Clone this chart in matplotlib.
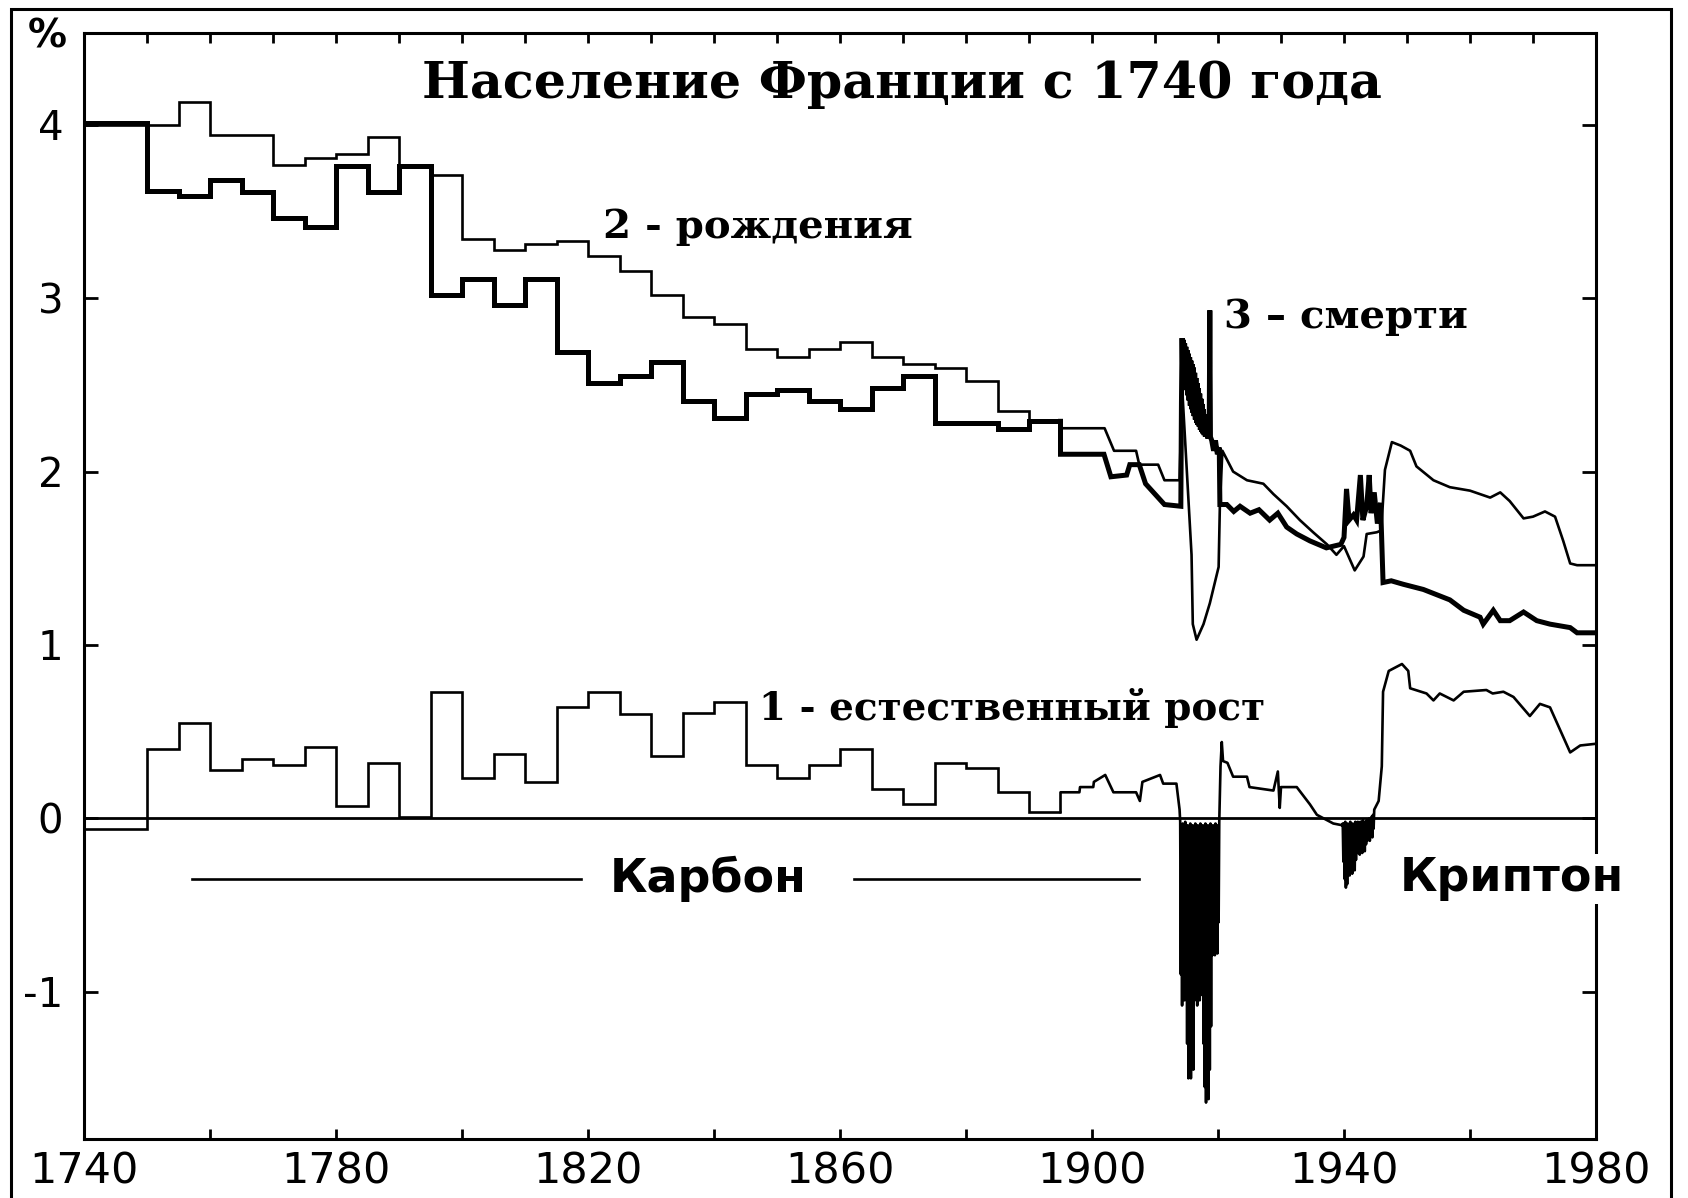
import numpy as np
import matplotlib
matplotlib.use("Agg")
import matplotlib.pyplot as plt
from matplotlib.patches import Rectangle

plt.rcParams['font.family'] = ['DejaVu Sans']

# ---- 5-year averages 1740-1895, % per year ----
period_edges = [1740, 1750, 1755, 1760, 1765, 1770, 1775, 1780, 1785, 1790, 1795,
                1800, 1805, 1810, 1815, 1820, 1825, 1830, 1835, 1840, 1845, 1850,
                1855, 1860, 1865, 1870, 1875, 1880, 1885, 1890, 1895]
births_period = [4.00, 4.00, 4.13, 3.94, 3.94, 3.77, 3.81, 3.83, 3.93, 3.77, 3.71,
                 3.34, 3.28, 3.31, 3.33, 3.245, 3.155, 3.02, 2.89, 2.85, 2.71, 2.66,
                 2.71, 2.75, 2.66, 2.62, 2.60, 2.52, 2.35, 2.29]
deaths_period = [4.01, 3.62, 3.59, 3.68, 3.61, 3.46, 3.41, 3.76, 3.61, 3.76, 3.02,
                 3.11, 2.96, 3.11, 2.69, 2.51, 2.55, 2.63, 2.41, 2.31, 2.45, 2.47,
                 2.41, 2.36, 2.48, 2.55, 2.28, 2.28, 2.245, 2.29]
growth_period = [-0.06, 0.40, 0.55, 0.28, 0.34, 0.31, 0.41, 0.07, 0.32, 0.01, 0.73,
                 0.23, 0.37, 0.21, 0.64, 0.73, 0.60, 0.36, 0.61, 0.67, 0.305, 0.23,
                 0.305, 0.40, 0.17, 0.08, 0.32, 0.29, 0.15, 0.036]

# ---- yearly data 1895-1980 ----
births_years = [1895, 1895, 1902, 1903.5, 1907, 1907.5, 1910.5, 1911.5, 1913.9, 1914.3,
                1915.8, 1916.0, 1916.6, 1917.7, 1918.7, 1919.3, 1920.1, 1920.3, 1920.7,
                1922.4, 1924.6, 1927.2, 1928.8, 1930.9, 1933.0, 1935.1, 1937.3, 1938.8,
                1940.0, 1941.7, 1943.1, 1943.6, 1945.2, 1945.9, 1946.5, 1947.6, 1949.0,
                1950.5, 1951.5, 1954.2, 1956.8, 1960.0, 1963.2, 1964.8, 1966.3, 1968.5,
                1970.0, 1971.9, 1973.5, 1974.8, 1975.9, 1977.0, 1980.0]
births_vals = [2.29, 2.25, 2.25, 2.12, 2.12, 2.04, 2.04, 1.95, 1.95, 2.49,
               1.52, 1.12, 1.03, 1.12, 1.24, 1.33, 1.45, 1.81, 2.12,
               2.00, 1.95, 1.93, 1.87, 1.80, 1.72, 1.65, 1.58, 1.52,
               1.57, 1.43, 1.51, 1.64, 1.65, 1.66, 2.01, 2.17, 2.15,
               2.12, 2.03, 1.95, 1.91, 1.89, 1.85, 1.88, 1.83, 1.73,
               1.74, 1.77, 1.74, 1.60, 1.47, 1.46, 1.46]

deaths_pre_years = [1895, 1895, 1901.9, 1903.0, 1905.5, 1906.0, 1907.5, 1908.5, 1910.0,
                    1911.5, 1914.1, 1914.2, 1914.3]
deaths_pre_vals = [2.29, 2.10, 2.10, 1.97, 1.98, 2.04, 2.04, 1.93, 1.87,
                   1.81, 1.80, 2.40, 2.77]
# 1914.4 .. 1918.6, every 0.1 year (war band)
deaths_ww1 = [2.55, 2.76, 2.52, 2.74, 2.50, 2.72, 2.47, 2.70, 2.44, 2.68, 2.41, 2.66,
              2.38, 2.64, 2.36, 2.62, 2.34, 2.60, 2.32, 2.57, 2.30, 2.54, 2.28, 2.51,
              2.27, 2.48, 2.26, 2.45, 2.24, 2.42, 2.23, 2.39, 2.22, 2.36, 2.21, 2.33,
              2.20, 2.31, 2.20, 2.29, 2.19, 2.27, 2.20]
deaths_post_years = [1918.7, 1918.8, 1919.0, 1919.3, 1919.6, 1919.9, 1920.2, 1920.3, 1921.4,
                     1922.5, 1923.5, 1925.1, 1926.5, 1928.2, 1929.5, 1930.9, 1932.5, 1934.6,
                     1937.2, 1939.5, 1940.0, 1940.4, 1940.8, 1941.5, 1942.0, 1942.6, 1943.0,
                     1943.6, 1944.0, 1944.3, 1944.8, 1945.3, 1945.8, 1946.2, 1947.5, 1949.4,
                     1952.6, 1956.8, 1959.0, 1961.6, 1962.1, 1963.7, 1964.8, 1966.3, 1968.5,
                     1970.6, 1972.7, 1975.9, 1977.0, 1980.0]
deaths_post_vals = [2.93, 2.20, 2.18, 2.12, 2.18, 2.10, 2.14, 1.81, 1.81,
                    1.77, 1.80, 1.76, 1.78, 1.72, 1.76, 1.68, 1.64, 1.60,
                    1.56, 1.58, 1.62, 1.90, 1.72, 1.75, 1.72, 1.98, 1.72,
                    1.80, 1.98, 1.76, 1.88, 1.70, 1.82, 1.36, 1.37, 1.35,
                    1.32, 1.26, 1.20, 1.16, 1.12, 1.20, 1.14, 1.14, 1.19,
                    1.14, 1.12, 1.10, 1.07, 1.07]

growth_pre_years = [1895, 1895, 1898.0, 1898.1, 1900.2, 1900.3, 1902.1, 1903.4, 1907.0,
                    1907.6, 1908.0, 1910.8, 1911.3, 1913.4, 1913.9]
growth_pre_vals = [0.036, 0.15, 0.15, 0.18, 0.18, 0.21, 0.25, 0.15, 0.15,
                   0.10, 0.21, 0.25, 0.20, 0.20, 0.05]
# 1914.0 .. 1920.2, every 0.1 year
growth_ww1 = [-0.02, -0.90, -0.05, -1.08, -0.03, -0.95, -0.06, -1.05, -0.02, -1.00,
              -0.05, -1.30, -0.04, -1.50, -0.08, -1.42, -0.03, -1.50, -0.06, -1.35,
              -0.04, -1.45, -0.07, -1.05, -0.03, -0.98, -0.05, -1.08, -0.04, -0.95,
              -0.06, -1.05, -0.03, -0.92, -0.05, -1.02, -0.04, -1.30, -0.06, -1.55,
              -0.03, -1.64, -0.05, -1.58, -0.04, -1.62, -0.07, -1.45, -0.03, -1.20,
              -0.05, -0.79, -0.04, -0.75, -0.06, -0.79, -0.03, -0.72, -0.05, -0.78,
              -0.04, -0.60, -0.02]
growth_mid_years = [1920.4, 1920.6, 1920.8, 1921.5, 1922.4, 1924.6, 1925.0, 1928.8, 1929.5,
                    1929.8, 1930.0, 1932.5, 1934.6, 1935.7, 1938.3, 1939.7]
growth_mid_vals = [0.30, 0.44, 0.33, 0.32, 0.24, 0.24, 0.18, 0.16, 0.27,
                   0.06, 0.18, 0.18, 0.08, 0.02, -0.03, -0.04]
# 1939.8 .. 1944.8, every 0.1 year
growth_ww2 = [-0.03, -0.25, -0.03, -0.35, -0.02, -0.40, -0.05, -0.38, -0.03, -0.30,
              -0.04, -0.33, -0.02, -0.28, -0.05, -0.32, -0.03, -0.26, -0.04, -0.30,
              -0.02, -0.24, -0.03, -0.20, -0.02, -0.18, -0.04, -0.21, -0.02, -0.17,
              -0.03, -0.20, -0.01, -0.16, -0.03, -0.19, -0.02, -0.15, -0.01, -0.13,
              -0.02, -0.12, 0.00, -0.13, -0.01, -0.10, 0.01, -0.11, 0.02, -0.06, 0.05]
growth_post_years = [1945.5, 1946.0, 1946.2, 1947.1, 1949.2, 1950.2, 1950.5, 1953.1, 1954.2,
                     1955.2, 1957.4, 1959.0, 1962.6, 1963.6, 1965.3, 1966.9, 1969.5, 1971.1,
                     1972.7, 1974.3, 1975.9, 1977.5, 1980.0]
growth_post_vals = [0.10, 0.30, 0.73, 0.85, 0.89, 0.85, 0.75, 0.72, 0.68,
                    0.72, 0.68, 0.73, 0.74, 0.72, 0.73, 0.70, 0.59, 0.66,
                    0.64, 0.51, 0.38, 0.42, 0.43]

carbon_spans = [(1757.1, 1818.9), (1862.2, 1907.5)]

ww1_d_years = np.round(np.arange(1914.4, 1918.65, 0.1), 1)
ww1_g_years = np.round(np.arange(1914.0, 1920.25, 0.1), 1)
ww2_g_years = np.round(np.arange(1939.8, 1944.85, 0.1), 1)

deaths_years = deaths_pre_years + list(ww1_d_years) + deaths_post_years
deaths_vals = deaths_pre_vals + deaths_ww1 + deaths_post_vals
growth_years = growth_pre_years + list(ww1_g_years) + growth_mid_years + list(ww2_g_years) + growth_post_years
growth_vals = growth_pre_vals + growth_ww1 + growth_mid_vals + growth_ww2 + growth_post_vals

fig = plt.figure(figsize=(16.88, 11.98), dpi=100)
ax = fig.add_axes([84/1688, 1-1139/1198, (1596-84)/1688, (1139-33)/1198])

thin = 1.9
thick = 3.6
ax.stairs(births_period, period_edges, color='k', lw=thin, baseline=None)
ax.plot(births_years, births_vals, color='k', lw=thin)
ax.stairs(deaths_period, period_edges, color='k', lw=thick, baseline=None)
ax.plot(deaths_years, deaths_vals, color='k', lw=thick, solid_joinstyle='miter')
ax.stairs(growth_period, period_edges, color='k', lw=thin, baseline=None)
ax.plot(growth_years, growth_vals, color='k', lw=thin)
ax.axhline(0, color='k', lw=2.0)

ax.set_xlim(1740, 1980)
ax.set_ylim(-1.85, 4.53)

for s in ax.spines.values():
    s.set_linewidth(2.2)

ax.set_xticks(np.arange(1740, 1981, 20))
ax.set_xticklabels([str(y) if (y - 1740) % 40 == 0 else '' for y in range(1740, 1981, 20)])
ax.set_xticks(np.arange(1740, 1981, 10), minor=True)
ax.set_yticks([-1, 0, 1, 2, 3, 4])
ax.set_yticklabels(['-1', '0', '1', '2', '3', '4'])
ax.tick_params(axis='x', which='major', direction='in', top=True, length=7, width=2,
               labelsize=31, pad=8)
ax.tick_params(axis='x', which='minor', direction='in', top=True, bottom=False, length=7, width=2)
ax.tick_params(axis='y', direction='in', right=True, length=10, width=2, labelsize=29, pad=15)

serif = 'DejaVu Serif'
ax.text(1869.8, 4.157, 'Население Франции с 1740 года', ha='center', va='baseline',
        family=serif, weight='bold', size=36.5)
ax.text(1822.4, 3.35, '2 - рождения', ha='left', va='baseline', family=serif,
        weight='bold', size=29)
ax.text(1921.0, 2.83, '3 – смерти', ha='left', va='baseline', family=serif,
        weight='bold', size=29)
ax.text(1847.2, 0.565, '1 - естественный рост', ha='left', va='baseline', family=serif,
        weight='bold', size=28)

for a, b in carbon_spans:
    ax.plot([a, b], [-0.35, -0.35], color='k', lw=1.9)
ax.text(1839.0, -0.35, 'Карбон', ha='center', va='center', weight='bold', size=33)
ax.text(1966.7, -0.35, 'Криптон', ha='center', va='center', weight='bold', size=33,
        clip_on=False, zorder=10,
        bbox=dict(facecolor='white', edgecolor='none', pad=2))

fig.text(47/1688, 1-37/1198, '%', ha='center', va='center', weight='bold', size=28)

fig.patches.append(Rectangle((11/1688, -0.05), (1671-11)/1688, 1.05 - 9/1198,
                             transform=fig.transFigure, fill=False, lw=2.2,
                             edgecolor='k'))

fig.savefig('out.png', dpi=100)
